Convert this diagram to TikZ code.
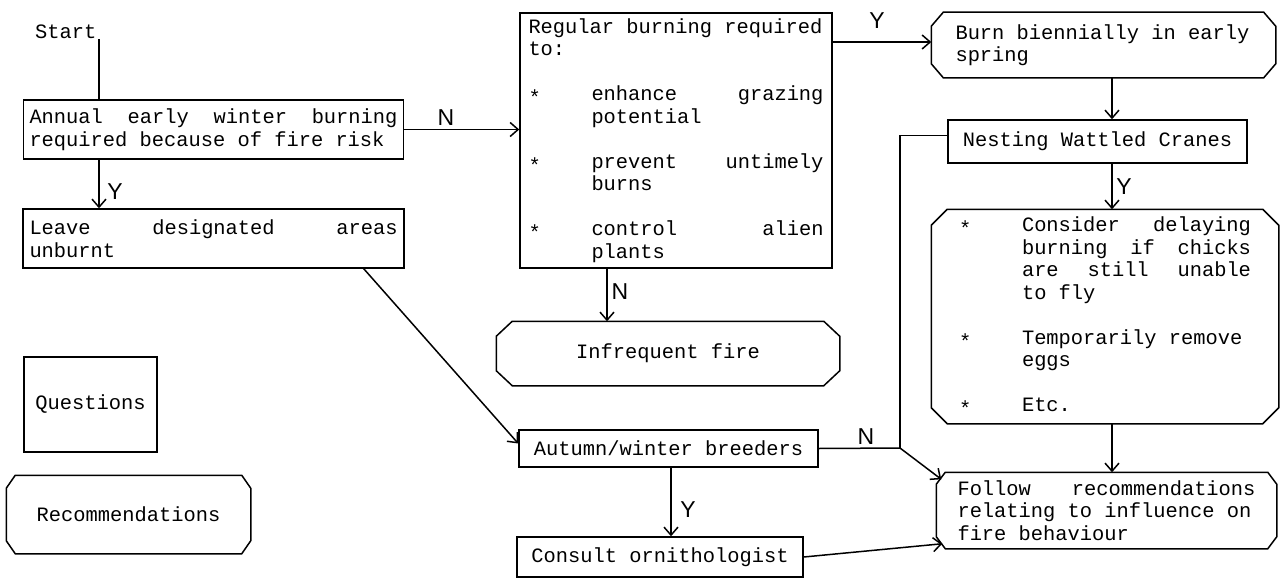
\documentclass[tikz,border=0pt]{standalone}
\usepackage{fontspec}
\newfontfamily\monoface{Liberation Mono}
\newfontfamily\labface{Liberation Sans}
\usetikzlibrary{arrows.meta,calc}
\newcommand\mtext{\monoface\fontsize{20.4pt}{22.5pt}\selectfont\spaceskip=0.6em\relax\xspaceskip=0.6em\relax}
\newcommand\ltext{\labface\fontsize{23pt}{24pt}\selectfont}
\newcommand\mybul{\makebox[63pt][l]{\raisebox{-4pt}{*}}}
\newcommand\myind{\hspace*{63pt}}
\newcommand\fixsp{\spaceskip=0.6em\relax\xspaceskip=0.6em\relax\parindent=0pt\relax}
\begin{document}
\begin{tikzpicture}[x=1pt,y=-1pt,
  line/.style={line width=1.5pt},
  arr/.style={line, -{Straight Barb[length=8pt,width=14pt]}},
  mybox/.style={draw, line width=1.5pt, inner sep=0pt, font=\mtext},
  obox/.style={mybox, draw=none},
  lbl/.style={font=\ltext, inner sep=0pt}]
\useasboundingbox (0,0) rectangle (1287,578);
\fill[white] (0,0) rectangle (1287,578);

% nodes
\node[font=\mtext, inner sep=0pt, anchor=west] (start) at (35,32) {Start};
\node[mybox, minimum width=380pt, minimum height=59pt, text width=368pt] (annual) at (213.5,129.5)
  {\fixsp Annual\hfill early\hfill winter\hfill burning\\required because of fire risk};
\node[mybox, minimum width=381pt, minimum height=59pt, text width=368pt] (leave) at (213.5,238.5)
  {\fixsp Leave\hfill designated\hfill areas\\unburnt};
\node[mybox, minimum width=312pt, minimum height=255pt, text width=295pt] (regular) at (676,140.5)
  {\fixsp Regular burning required\\to:\\[22.5pt]
   \mybul enhance\hfill grazing\\\myind potential\\[22.5pt]
   \mybul prevent\hfill untimely\\\myind burns\\[22.5pt]
   \mybul control\hfill alien\\\myind plants};
\node[obox, minimum width=343pt, minimum height=64pt, text width=296pt] (burn) at (1103.5,45)
  {\fixsp Burn biennially in early\\spring};
\node[mybox, minimum width=299pt, minimum height=43pt] (nest) at (1097.5,141.5) {Nesting Wattled Cranes};
\node[obox, minimum width=346pt, minimum height=213pt, text width=292pt] (consider) at (1105,316.5)
  {\fixsp\mybul Consider\hfill delaying\\\myind burning\hfill if\hfill chicks\\\myind are\hfill still\hfill unable\\\myind to fly\\[22.5pt]
   \mybul Temporarily remove\\\myind eggs\\[22.5pt]
   \mybul Etc.};
\node[obox, minimum width=339pt, minimum height=75pt, text width=298pt] (follow) at (1106.5,510.5)
  {\fixsp Follow\hfill recommendations\\relating to influence on\\fire behaviour};
\node[obox, minimum width=342pt, minimum height=63pt, align=center] (infreq) at (668,353.5) {Infrequent fire};
\node[mybox, minimum width=299pt, minimum height=37pt] (autumn) at (668.5,448.5) {Autumn/winter breeders};
\node[mybox, minimum width=286pt, minimum height=40pt] (consult) at (660,557) {Consult ornithologist};
\node[mybox, minimum width=133pt, minimum height=95pt, align=center] (questions) at (90.5,404.5) {Questions};
\node[obox, minimum width=243pt, minimum height=77pt, align=center] (recom) at (128.5,514.5) {Recommendations};

% octagonal outlines
\foreach \n/\cx/\cy in {burn/12/14, consider/16/16, follow/9/12, infreq/16/15, recom/9/13}{
  \draw[line] ($(\n.north west)+(\cx,0)$) -- ($(\n.north east)+(-\cx,0)$)
    -- ($(\n.north east)+(0,\cy)$) -- ($(\n.south east)+(0,-\cy)$)
    -- ($(\n.south east)+(-\cx,0)$) -- ($(\n.south west)+(\cx,0)$)
    -- ($(\n.south west)+(0,-\cy)$) -- ($(\n.north west)+(0,\cy)$) -- cycle;
}

% helper coordinates
\coordinate (xs) at (99,0);
\coordinate (xr) at (1112,0);
\coordinate (xi) at (607,0);
\coordinate (xc) at (671,0);
\coordinate (yb) at (0,42);
\coordinate (j) at (900,448);

% connectors
\draw[line] (start.south -| xs) -- (annual.north -| xs);
\draw[arr] (annual.south -| xs) -- (leave.north -| xs);
\draw[arr] (annual.east) -- (annual.east -| regular.west);
\draw[arr] (regular.east |- yb) -- (burn.west |- yb);
\draw[arr] (burn.south -| xr) -- (nest.north -| xr);
\draw[arr] (nest.south -| xr) -- (consider.north -| xr);
\draw[arr] (consider.south -| xr) -- (follow.north -| xr);
\draw[arr] (regular.south -| xi) -- (infreq.north -| xi);
\draw[arr] ($(leave.south east)+(-41,0)$) -- ($(autumn.west)+(0,-5)$);
\draw[arr] (autumn.south -| xc) -- (consult.north -| xc);
\draw[line] (autumn.east) -- (j);
\draw[line] ($(nest.west)+(0,-6)$) -| (j);
\draw[arr] (j) -- ($(follow.north west)+(5,7)$);
\draw[arr] (consult.east) -- ($(follow.south west)+(6,-5)$);

% labels
\node[lbl] (l1) at (115,192) {Y};
\node[lbl] (l2) at (446,118) {N};
\node[lbl] (l3) at (877,21) {Y};
\node[lbl] (l4) at (620,292) {N};
\node[lbl] (l5) at (1124,187) {Y};
\node[lbl] (l6) at (688,510) {Y};
\node[lbl] (l7) at (866,437) {N};
\end{tikzpicture}
\end{document}
